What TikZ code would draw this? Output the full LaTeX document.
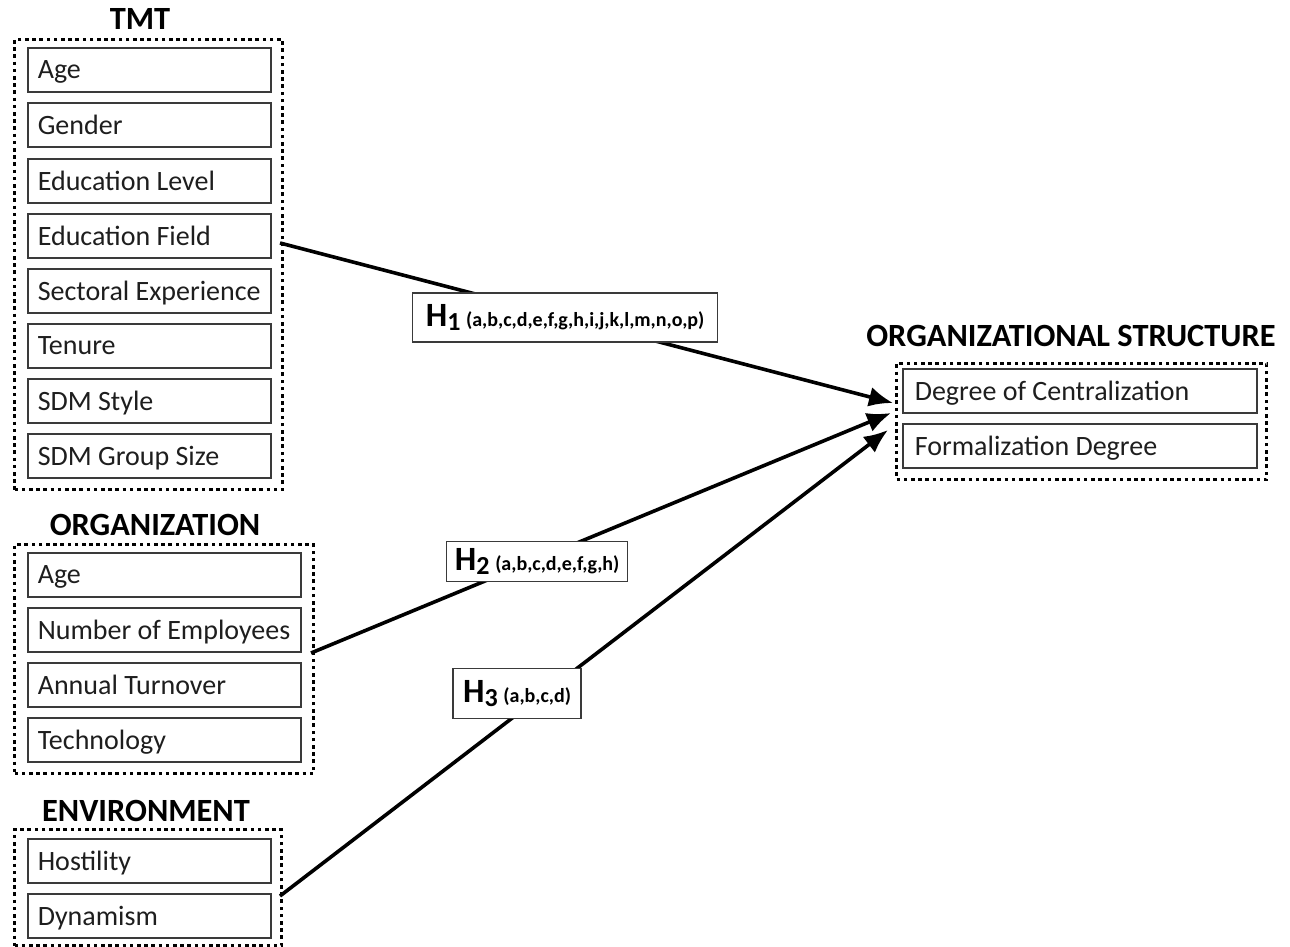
\documentclass[tikz,border=0pt]{standalone}
\usepackage{fontspec}
\setmainfont{Carlito}
\usetikzlibrary{arrows.meta}
\definecolor{txt}{HTML}{1E1E1E}
\definecolor{edge}{HTML}{3A3A3A}
\begin{document}
\begin{tikzpicture}[x=1pt,y=-1pt,
  item/.style={draw=edge, line width=1.6pt, anchor=north west, minimum height=44pt,
    inner sep=0pt, text=txt, font=\fontsize{28}{32}\selectfont, align=left,
    text depth=0pt},
  outer/.style={draw=black, line width=3.2pt, dash pattern=on 3.6pt off 3.6pt,
    anchor=north west, inner sep=0pt},
  title/.style={font=\bfseries\fontsize{32.4}{36}\selectfont, text=black, inner sep=0pt},
  hyp/.style={draw=edge, line width=1.4pt, fill=white, inner sep=0pt, text=black,
    font=\bfseries},
  link/.style={line width=3.6pt, -{Latex[length=24pt,width=20pt]}}
]
\useasboundingbox (0,0) rectangle (1290,947);
\newcommand{\itm}[4]{\node[item, minimum width=#2pt] (#1) at (27,#3)
  {\makebox[#2pt][l]{\hspace{10pt}#4}};}
% TMT
\node[title] (tmtt) at (140,19) {TMT};
\node[outer, minimum width=268pt, minimum height=450pt] (tmt) at (13,38) {};
\itm{a1}{243}{47}{Age}
\itm{a2}{243}{102}{Gender}
\itm{a3}{243}{158}{Education Level}
\itm{a4}{243}{213}{Education Field}
\itm{a5}{243}{268}{Sectoral Experience}
\itm{a6}{243}{323}{Tenure}
\itm{a7}{243}{378}{SDM Style}
\itm{a8}{243}{433}{SDM Group Size}
% ORGANIZATION
\node[title] (orgt) at (155,525) {ORGANIZATION};
\node[outer, minimum width=299pt, minimum height=229pt] (org) at (13,543) {};
\itm{b1}{273}{552}{Age}
\itm{b2}{273}{607}{Number of Employees}
\itm{b3}{273}{662}{Annual Turnover}
\itm{b4}{273}{717}{Technology}
% ENVIRONMENT
\node[title] (envt) at (146,811) {ENVIRONMENT};
\node[outer, minimum width=267pt, minimum height=116pt] (env) at (13,828) {};
\itm{c1}{243}{838}{Hostility}
\itm{c2}{243}{893}{Dynamism}
% ORGANIZATIONAL STRUCTURE
\node[title] (ost) at (1071,336) {ORGANIZATIONAL STRUCTURE};
\node[outer, minimum width=370pt, minimum height=116pt] (os) at (895,362) {};
\node[item, minimum width=354pt] (d1) at (902,368) {\makebox[354pt][l]{\hspace{12pt}Degree of Centralization}};
\node[item, minimum width=354pt] (d2) at (902,423) {\makebox[354pt][l]{\hspace{12pt}Formalization Degree}};
% connectors
\coordinate (s1) at (280,243);
\coordinate (s2) at (311,653);
\coordinate (s3) at (280,896);
\coordinate (t1) at (893,403);
\coordinate (t2) at (891,413);
\coordinate (t3) at (888,430);
\draw[link] (s1) -- (t1)
  node[hyp, pos=0.465, minimum width=305pt, minimum height=49pt] (h1)
  {\fontsize{34}{38}\selectfont H\raisebox{-4pt}{\fontsize{26}{30}\selectfont 1}\,\fontsize{20}{24}\selectfont (a,b,c,d,e,f,g,h,i,j,k,l,m,n,o,p)};
\draw[link] (s2) -- (t2)
  node[hyp, pos=0.39, yshift=-2pt, minimum width=181pt, minimum height=40pt] (h2)
  {\fontsize{34}{38}\selectfont H\raisebox{-4pt}{\fontsize{26}{30}\selectfont 2}\,\fontsize{20}{24}\selectfont (a,b,c,d,e,f,g,h)};
\draw[link] (s3) -- (t3)
  node[hyp, pos=0.39, yshift=21pt, minimum width=128pt, minimum height=50pt] (h3)
  {\fontsize{34}{38}\selectfont H\raisebox{-4pt}{\fontsize{26}{30}\selectfont 3}\,\fontsize{20}{24}\selectfont (a,b,c,d)};
\end{tikzpicture}
\end{document}
